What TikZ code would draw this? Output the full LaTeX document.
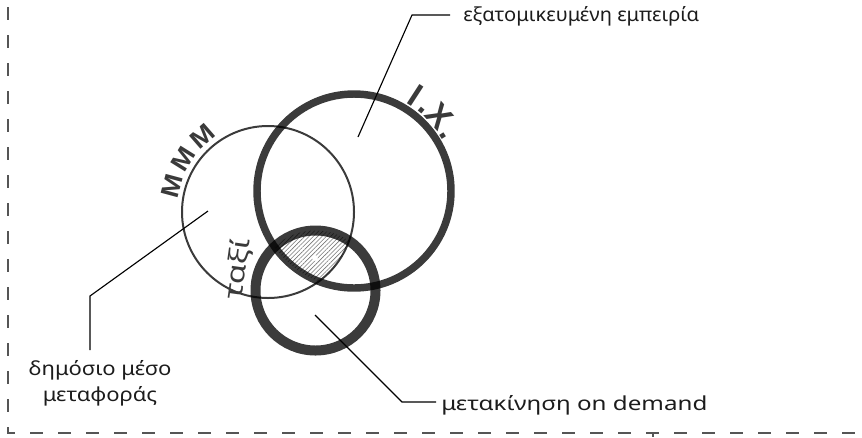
\documentclass[tikz,border=0pt]{standalone}
\usepackage{fontspec}
\setmainfont{Noto Sans}
\newfontfamily\ringfont{Liberation Sans}
\usetikzlibrary{patterns.meta,calc}
\definecolor{ringgray}{HTML}{3A3A3A}
\definecolor{ink}{HTML}{1C1C1C}
\definecolor{framegray}{HTML}{555555}
\definecolor{hatchgray}{HTML}{777777}
\begin{document}
\begin{tikzpicture}[x=0.75pt,y=-0.75pt,
  lbl/.style={font=\fontsize{14.5}{18}\selectfont, text=ink, inner sep=0pt},
  leader/.style={draw=black, line width=0.85pt},
  framedash/.style={draw=framegray, line width=1pt, dash pattern=on 10.1pt off 10.9pt},
  ringline/.style={draw=black, draw opacity=0.77},
  mletter/.style={font=\ringfont\bfseries\fontsize{19}{20}\selectfont, text=ringgray, inner sep=0pt, anchor=base},
  ixletter/.style={font=\ringfont\bfseries\fontsize{25}{28}\selectfont, text=ringgray, inner sep=0pt, anchor=base}]
\useasboundingbox (0,0) rectangle (862,437);
% centres
\coordinate (cB) at (354,191);
\coordinate (cT) at (268,212);
\coordinate (cS) at (315.5,290.5);
% hatched triple intersection
\begin{scope}
  \clip (cB) circle[radius=72.75pt];
  \clip (cT) circle[radius=64.5pt];
  \clip (cS) circle[radius=45pt];
  \fill[white] (200,150) rectangle (450,350);
  \fill[pattern={Lines[angle=45,distance=2.3pt,line width=0.45pt]}, pattern color=hatchgray] (200,150) rectangle (450,350);
\end{scope}
\fill[white] (315,258) circle[radius=2.2pt];
% rings
\draw[ringline, line width=1.5pt] (cT) circle[radius=64.5pt];
\draw[ringline, line width=5.6pt] (cB) circle[radius=72.75pt];
\draw[ringline, line width=7.5pt] (cS) circle[radius=45pt];
% ring texts
\node[mletter, rotate=75] (m1) at ($(cT)+(-165:91)$) {\scalebox{1.1}[1]{M}};
\node[mletter, rotate=58] (m2) at ($(cT)+(-148:91)$) {\scalebox{1.1}[1]{M}};
\node[mletter, rotate=41] (m3) at ($(cT)+(-131:91)$) {\scalebox{1.1}[1]{M}};
\node[ixletter, rotate=-33] (x1) at ($(cB)+(-57:102)$) {I};
\node[ixletter, rotate=-40] (x2) at ($(cB)+(-50:102)$) {.};
\node[ixletter, rotate=-48.5] (x3) at ($(cB)+(-41.5:102)$) {X};
\node[ixletter, rotate=-58] (x4) at ($(cB)+(-32:102)$) {.};
\node[font=\fontsize{19}{20}\selectfont, text=ringgray, inner sep=0pt, anchor=base, rotate=82] (taxi) at (246,270) {\scalebox{1.3}[1]{ταξί}};
% labels
\node[lbl, anchor=base west] (tE) at (463,21) {\scalebox{1.04}[1]{εξατομικευμένη εμπειρία}};
\node[lbl, anchor=base west] (tS) at (441,410) {\scalebox{1.25}[1]{μετακίνηση on demand}};
\node[lbl, anchor=base] (tT1) at (100,375) {\scalebox{1.14}[1]{δημόσιο μέσο}};
\node[lbl, anchor=base] (tT2) at (100,401) {\scalebox{1.14}[1]{μεταφοράς}};
% leaders
\coordinate (eB) at (358,137);
\coordinate (kB) at (412,15);
\coordinate (hB) at (450,15);
\draw[leader] (eB) -- (kB) -- (hB);
\coordinate (eT) at (208,211);
\coordinate (kT) at (90,296);
\coordinate (hT) at (90,350);
\draw[leader] (eT) -- (kT) -- (hT);
\coordinate (eS) at (315,315);
\coordinate (kS) at (402,402);
\coordinate (hS) at (436,402);
\draw[leader] (eS) -- (kS) -- (hS);
% frame
\coordinate (f1) at (8,7);
\coordinate (f2) at (8,433);
\coordinate (f3) at (862,433);
\draw[framedash] (f1) -- (f2) -- (f3);
\coordinate (t1) at (653,433);
\coordinate (t2) at (653,437);
\draw[draw=framegray, line width=1pt] (t1) -- (t2);
\end{tikzpicture}
\end{document}
